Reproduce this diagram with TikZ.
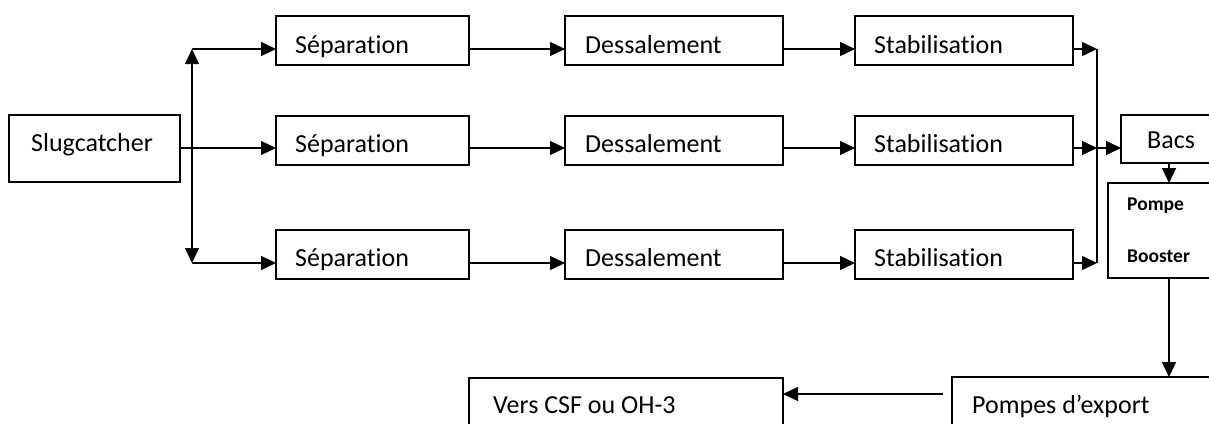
\documentclass[tikz,border=0pt]{standalone}
\usepackage{fontspec}
\setmainfont{Carlito}[Ligatures=NoCommon]
\usetikzlibrary{arrows.meta}
\begin{document}
\begin{tikzpicture}[x=1pt,y=-1pt,
  box/.style={draw,line width=1.4pt,anchor=north west,inner sep=0pt,outer sep=0pt},
  lbl/.style={anchor=base west,inner sep=0pt,font=\fontsize{26}{30}\selectfont},
  lblb/.style={anchor=base west,inner sep=0pt,font=\fontsize{19.5}{22}\selectfont\bfseries},
  flow/.style={line width=1.4pt,-{Triangle[length=15pt,width=14pt]}},
  pipe/.style={line width=1.4pt}]
\useasboundingbox (0,0) rectangle (1209,423);
\clip (0,0) rectangle (1209,423);

% process boxes: width x height placed by their top-left corner
\newcommand{\procbox}[5]{\node[box,minimum width=#4pt,minimum height=#5pt] (#1) at (#2,#3) {};}
\procbox{slug}{9}{115}{171}{67}
\foreach \r/\y in {A/16,B/116,C/230}{
  \procbox{sep\r}{276}{\y}{193}{49}
  \procbox{des\r}{565}{\y}{218}{49}
  \procbox{sta\r}{855}{\y}{218}{49}
}
\procbox{bacs}{1121}{115}{140}{48}
\procbox{pompe}{1108}{183}{150}{95}
\procbox{export}{952}{377}{300}{80}
\procbox{vers}{469}{378}{314}{80}

% labels
\node[lbl] (tslug) at (31,151) {Slugcatcher};
\foreach \r/\b in {A/53,B/152,C/266}{
  \node[lbl] (tsep\r) at (295,\b) {Séparation};
  \node[lbl] (tdes\r) at (585,\b) {Dessalement};
  \node[lbl] (tsta\r) at (874,\b) {Stabilisation};
}
\node[lbl] (tbacs) at (1147,148) {Bacs};
\node[lblb] (tpompe) at (1127,210) {Pompe};
\node[lblb] (tbooster) at (1127,262) {Booster};
\node[lbl] (texport) at (972,413) {Pompes d’export};
\node[lbl] (tvers) at (493,413) {Vers CSF ou OH-3};

% distribution header after the slugcatcher
\coordinate (splitA) at (192,49);
\coordinate (splitC) at (192,263);
\draw[pipe,{Triangle[length=15pt,width=14pt]}-{Triangle[length=15pt,width=14pt]}] (splitA) -- (splitC);
\draw[flow] (splitA) -- (sepA.west |- splitA);
\draw[flow] (splitC) -- (sepC.west |- splitC);
\draw[flow] (slug.east |- 0,148) -- (sepB.west |- 0,148);

% three parallel trains
\foreach \r/\y in {A/49,B/148,C/263}{
  \draw[flow] (sep\r.east |- 0,\y) -- (des\r.west |- 0,\y);
  \draw[flow] (des\r.east |- 0,\y) -- (sta\r.west |- 0,\y);
  \coordinate (merge\r) at (1097,\y);
  \draw[flow] (sta\r.east |- 0,\y) -- (merge\r);
}
% collector to storage tanks
\draw[pipe] (mergeA) -- (mergeC);
\draw[flow] (mergeB) -- (bacs.west |- mergeB);
\draw[flow] (bacs.south -| 1169,0) -- (pompe.north -| 1169,0);
\draw[flow] (pompe.south -| 1169,0) -- (export.north -| 1169,0);
\coordinate (expout) at (943,394);
\draw[flow] (expout) -- (vers.east |- expout);
\end{tikzpicture}
\end{document}
